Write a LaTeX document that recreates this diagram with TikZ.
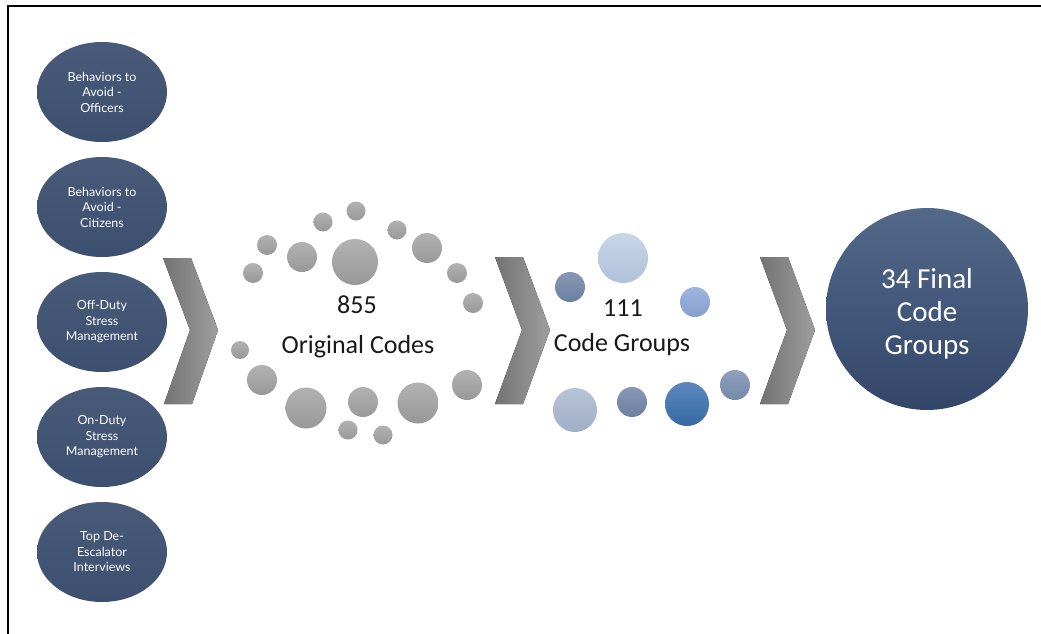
\documentclass[tikz,border=0pt]{standalone}
\usepackage{fontspec}
\setmainfont{Carlito}
\newfontfamily\smallsans{Lato}
\definecolor{slate}{HTML}{3F5272}
\definecolor{slatetop}{HTML}{536989}
\definecolor{slatebot}{HTML}{33466A}
\definecolor{gcirc}{HTML}{A6A6A6}
\definecolor{gcirctop}{HTML}{B2B2B2}
\definecolor{gcircbot}{HTML}{989898}
\definecolor{bA}{HTML}{B9CBE4}
\definecolor{bB}{HTML}{7186A8}
\definecolor{bC}{HTML}{8CA8D8}
\definecolor{bD}{HTML}{A9B8D1}
\definecolor{bE}{HTML}{3E74B4}
\definecolor{bF}{HTML}{7C90B2}
\tikzset{
  srcell/.style={ellipse, draw=none, top color=slate!95!white, bottom color=slate!97!black, minimum width=130pt, minimum height=100pt, inner sep=0pt, text=white, align=center, font=\smallsans\fontsize{12.5}{15.5}\selectfont},
  gdot/.style={circle, draw=none, top color=gcirctop, bottom color=gcircbot, inner sep=0pt, minimum size=#1},
  bdot/.style={circle, draw=none, inner sep=0pt, minimum size=#1},
  chev/.style={draw=none, left color=black!55, right color=black!38},
  midtext/.style={text=black!90, font=\fontsize{26}{30}\selectfont, inner sep=0pt},
  finaltext/.style={text=white, align=center, font=\fontsize{29}{33}\selectfont}
}
\usetikzlibrary{shapes.geometric}
\begin{document}
\begin{tikzpicture}[x=1pt,y=-1pt]
\useasboundingbox (0,0) rectangle (1041,634);
\fill[white] (0,0) rectangle (1041,634);
\draw[line width=1.6pt, black] (8,634) -- (8,6) -- (1041,6);

% source ellipses
\node[srcell] (s1) at (102,92) {Behaviors to\\Avoid -\\Officers};
\node[srcell] (s2) at (102,207) {Behaviors to\\Avoid -\\Citizens};
\node[srcell] (s3) at (102,322) {Off-Duty\\Stress\\Management};
\node[srcell] (s4) at (102,437) {On-Duty\\Stress\\Management};
\node[srcell] (s5) at (102,552) {Top De-\\Escalator\\Interviews};

% chevrons
\fill[chev] (163,258) -- (191,258) -- (218,330) -- (192,404) -- (164,404) -- (190,330) -- cycle;
\fill[chev] (495,257) -- (523,257) -- (550,330) -- (523,404) -- (495,404) -- (522,330) -- cycle;
\fill[chev] (760,257) -- (788,257) -- (815,330) -- (788,404) -- (760,404) -- (787,330) -- cycle;

% original codes dots
\node[gdot=46pt] (g1) at (355,262) {};
\node[gdot=30pt] (g2) at (302,257) {};
\node[gdot=20pt] (g3) at (267,245) {};
\node[gdot=20pt] (g4) at (253,273) {};
\node[gdot=19pt] (g5) at (323,222) {};
\node[gdot=19pt] (g6) at (356,211) {};
\node[gdot=19pt] (g7) at (397,230) {};
\node[gdot=30pt] (g8) at (427,248) {};
\node[gdot=20pt] (g9) at (457,273) {};
\node[gdot=20pt] (g10) at (473,303) {};
\node[gdot=18pt] (g11) at (240,350) {};
\node[gdot=30pt] (g12) at (262,380) {};
\node[gdot=41pt] (g13) at (306,408) {};
\node[gdot=30pt] (g14) at (363,402) {};
\node[gdot=19pt] (g15) at (348,430) {};
\node[gdot=19pt] (g16) at (383,435) {};
\node[gdot=41pt] (g17) at (418,403) {};
\node[gdot=30pt] (g18) at (467,385) {};

\node[midtext] (n855) at (357,305) {855};
\node[midtext] (orig) at (358,347) {Original Codes};

% code group dots
\node[bdot=50pt, top color=bA!80!white, bottom color=bA!95!black] (b1) at (623,258) {};
\node[bdot=30pt, top color=bB!85!white, bottom color=bB!95!black] (b2) at (570,287) {};
\node[bdot=30pt, top color=bC!85!white, bottom color=bC!95!black] (b3) at (695,302) {};
\node[bdot=44pt, top color=bD!85!white, bottom color=bD!95!black] (b4) at (575,410) {};
\node[bdot=30pt, top color=bB!85!white, bottom color=bB!95!black] (b5) at (632,402) {};
\node[bdot=44pt, top color=bE!85!white, bottom color=bE!90!black] (b6) at (687,404) {};
\node[bdot=30pt, top color=bF!85!white, bottom color=bF!95!black] (b7) at (735,385) {};

\node[midtext] (n111) at (623,308) {111};
\node[midtext] (cg) at (622,345) {Code Groups};

% final
\node[circle, draw=none, top color=slatetop, bottom color=slatebot, minimum size=202pt, inner sep=0pt] (fin) at (927,309) {};
\node[finaltext] (fintext) at (927,314) {34 Final\\Code\\Groups};
\end{tikzpicture}
\end{document}
